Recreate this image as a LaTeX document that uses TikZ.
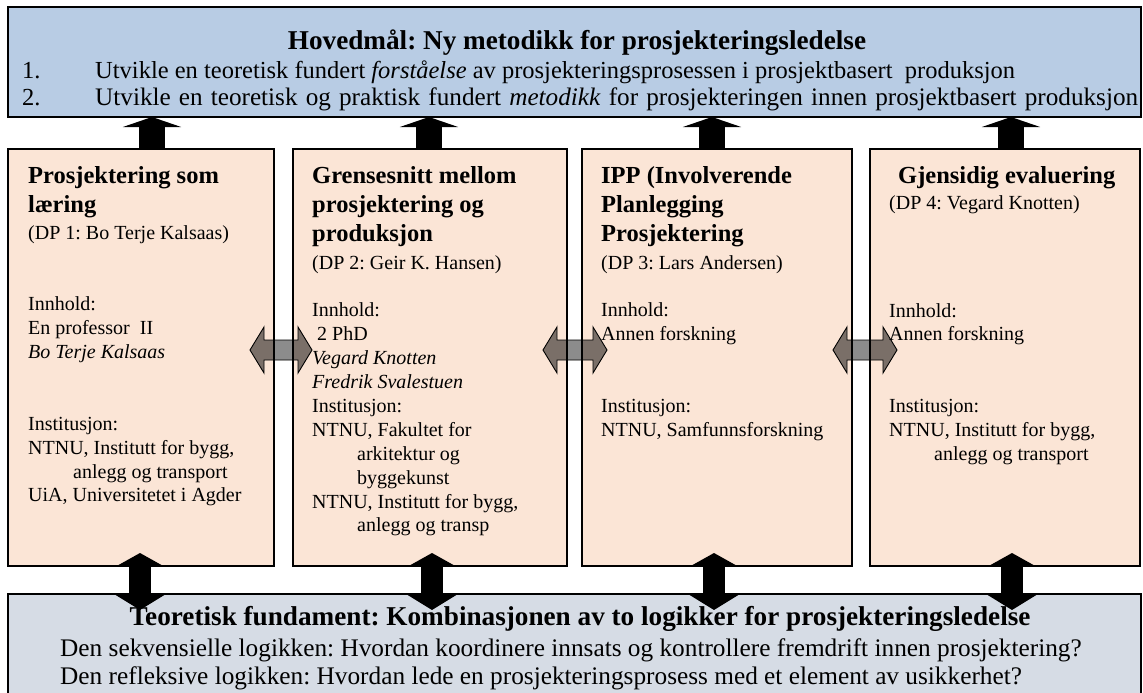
\documentclass[tikz,border=0pt]{standalone}
\usepackage{fontspec}
\setmainfont{Liberation Serif}
\usetikzlibrary{arrows.meta,calc}
\frenchspacing

\definecolor{topblue}{HTML}{B8CCE4}
\definecolor{botblue}{HTML}{D6DCE5}
\definecolor{peach}{HTML}{FBE5D6}
\definecolor{headcol}{HTML}{7A6F68}
\definecolor{shaftcol}{HTML}{8C8C8C}

% stack of left-aligned lines; the first line carries the baseline
\newcommand{\linestack}[1]{\vtop{\halign{##\hfil\cr#1\crcr}}}

% outline of a horizontal block arrow with two heads, tips at #1 and #2
\newcommand{\sidepath}[2]{(#1) -- ++(14,-23) -- ++(0,13) -- ($(#2)+(-14,-10)$) -- ++(0,-13) -- (#2) -- ++(-14,23) -- ++(0,-13) -- ($(#1)+(14,10)$) -- ++(0,13) -- cycle}

\begin{document}
\begin{tikzpicture}[x=1pt,y=-1pt,
  panel/.style={draw=black, line width=1.3pt, inner sep=0pt, outer sep=0pt, anchor=north west},
  hdtitle/.style={anchor=base, inner sep=0pt, font=\fontsize{27.2}{32}\selectfont\bfseries},
  hdline/.style={anchor=base west, inner sep=0pt, font=\fontsize{24.5}{29}\selectfont},
  ftline/.style={anchor=base west, inner sep=0pt, font=\fontsize{25.3}{29}\selectfont},
  boxtitle/.style={anchor=base west, inner sep=0pt, font=\fontsize{24.5}{29}\selectfont\bfseries},
  boxbody/.style={anchor=base west, inner sep=0pt, font=\fontsize{20}{23.9}\selectfont},
  uparrow/.style={line width=26pt, -{Triangle[width=58pt,length=10pt]}},
  bothway/.style={line width=22pt, {Triangle[width=46pt,length=13pt]}-{Triangle[width=48pt,length=15pt]}},
  sideline/.style={draw=black, line width=0.9pt, line join=miter}
]
\useasboundingbox (0,0) rectangle (1143,693);
\clip (0,0) rectangle (1143,693);

% banners and work-package boxes
\node[panel, fill=topblue, minimum width=1133pt, minimum height=110pt] (top) at (8,7) {};
\node[panel, fill=botblue, minimum width=1133pt, minimum height=120pt] (bot) at (8,594) {};
\node[panel, fill=peach, minimum width=266pt, minimum height=417pt] (b1) at (8,149) {};
\node[panel, fill=peach, minimum width=274pt, minimum height=417pt] (b2) at (293,149) {};
\node[panel, fill=peach, minimum width=270pt, minimum height=417pt] (b3) at (582,149) {};
\node[panel, fill=peach, minimum width=270pt, minimum height=417pt] (b4) at (870,149) {};

% links between neighbouring boxes
\coordinate (hy) at (0,350);
\foreach \a/\b/\la/\rb in {b1/b2/-24/19, b2/b3/-24/25, b3/b4/-19/27} {
  \coordinate (L) at ($(\a.east |- hy)+(\la,0)$);
  \coordinate (R) at ($(\b.west |- hy)+(\rb,0)$);
  \fill[headcol] \sidepath{L}{R};
  \fill[shaftcol] ($(\a.east |- L)+(0,-10)$) rectangle ($(\b.west |- L)+(0,10)$);
  \draw[sideline] \sidepath{L}{R};
  \draw[line width=1.3pt] (\a.north east) -- (\a.south east);
  \draw[line width=1.3pt] (\b.north west) -- (\b.south west);
}

% arrows up to the main goal
\coordinate (u1) at (152,0);
\coordinate (u2) at (429,0);
\coordinate (u3) at (712,0);
\coordinate (u4) at (1011,0);
\draw[uparrow] (u1 |- b1.north) -- (u1 |- top.south);
\draw[uparrow] (u2 |- b2.north) -- (u2 |- top.south);
\draw[uparrow] (u3 |- b3.north) -- (u3 |- top.south);
\draw[uparrow] (u4 |- b4.north) -- (u4 |- top.south);

% two-way arrows to the theoretical foundation
\coordinate (d1) at (140,0);
\coordinate (d2) at (432,0);
\coordinate (d3) at (714,0);
\coordinate (d4) at (1012,0);
\draw[bothway, shorten <=-13pt, shorten >=-16pt] (d1 |- b1.south) -- (d1 |- bot.north);
\draw[bothway, shorten <=-13pt, shorten >=-16pt] (d2 |- b2.south) -- (d2 |- bot.north);
\draw[bothway, shorten <=-13pt, shorten >=-16pt] (d3 |- b3.south) -- (d3 |- bot.north);
\draw[bothway, shorten <=-13pt, shorten >=-16pt] (d4 |- b4.south) -- (d4 |- bot.north);

% main goal
\node[hdtitle] (toptitle) at (577,49) {Hovedmål: Ny metodikk for prosjekteringsledelse};
\node[hdline] (n1) at (22,78) {1.};
\node[hdline] (g1) at (95,78) {Utvikle en teoretisk fundert \textit{forståelse} av prosjekteringsprosessen i prosjektbasert\ \ produksjon};
\node[hdline] (n2) at (22,106) {2.};
\node[hdline, font=\fontsize{25.2}{29}\selectfont] (g2) at (95,106) {\makebox[1043pt][s]{Utvikle en teoretisk og praktisk fundert \textit{metodikk} for prosjekteringen innen prosjektbasert produksjon}};

% box 1
\node[boxtitle] (t1) at (28,183) {\linestack{Prosjektering som\cr læring}};
\node[boxbody] (p1) at (28,239) {\linestack{(DP 1: Bo Terje Kalsaas)\cr\cr\cr
Innhold:\cr
En professor\ \ II\cr
\textit{Bo Terje Kalsaas}\cr\cr\cr
Institusjon:\cr
NTNU, Institutt for bygg,\cr
\hspace*{45pt}anlegg og transport\cr
UiA, Universitetet i Agder}};

% box 2
\node[boxtitle] (t2) at (312,183) {\linestack{Grensesnitt mellom\cr prosjektering og\cr produksjon}};
\node[boxbody] (p2) at (312,269) {\linestack{(DP 2: Geir K. Hansen)\cr\cr
Innhold:\cr
\hspace*{5pt}2 PhD\cr
\textit{Vegard Knotten}\cr
\textit{Fredrik Svalestuen}\cr
Institusjon:\cr
NTNU, Fakultet for\cr
\hspace*{45pt}arkitektur og\cr
\hspace*{45pt}byggekunst\cr
NTNU, Institutt for bygg,\cr
\hspace*{45pt}anlegg og transp}};

% box 3
\node[boxtitle] (t3) at (601,183) {\linestack{IPP (Involverende\cr Planlegging\cr Prosjektering}};
\node[boxbody] (p3) at (601,269) {\linestack{(DP 3: Lars Andersen)\cr\cr
Innhold:\cr
Annen forskning\cr\cr\cr
Institusjon:\cr
NTNU, Samfunnsforskning}};

% box 4
\node[boxtitle] (t4) at (898,183) {Gjensidig evaluering};
\node[boxbody] (s4) at (889,209) {(DP 4: Vegard Knotten)};
\node[boxbody] (p4) at (889,317) {\linestack{Innhold:\cr
Annen forskning\cr\cr\cr
Institusjon:\cr
NTNU, Institutt for bygg,\cr
\hspace*{45pt}anlegg og transport}};

% theoretical foundation
\node[hdtitle] (bottitle) at (580,625) {Teoretisk fundament: Kombinasjonen av to logikker for prosjekteringsledelse};
\node[ftline] (q1) at (60,656) {Den sekvensielle logikken: Hvordan koordinere innsats og kontrollere fremdrift innen prosjektering?};
\node[ftline] (q2) at (60,684) {Den refleksive logikken: Hvordan lede en prosjekteringsprosess med et element av usikkerhet?};
\end{tikzpicture}
\end{document}
